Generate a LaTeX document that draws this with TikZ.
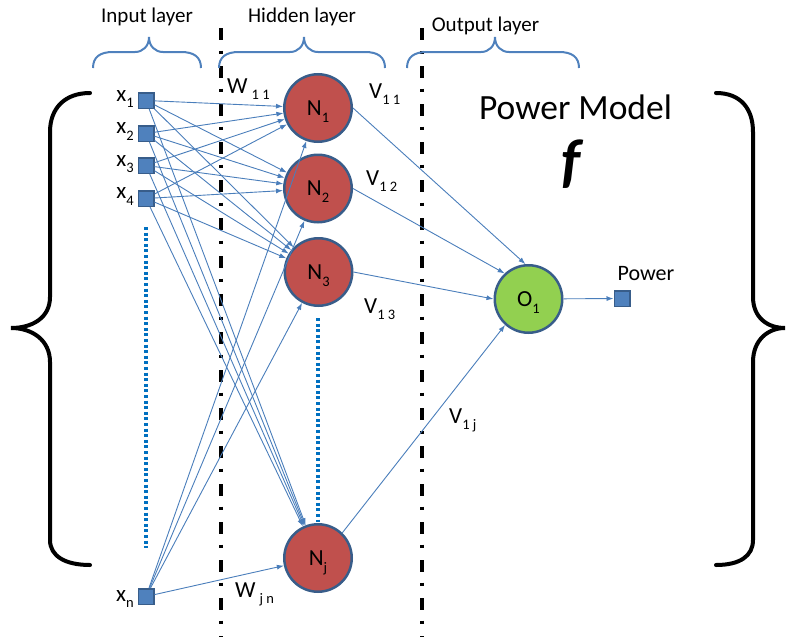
\documentclass[tikz,border=0pt]{standalone}
\usepackage{fontspec}
\setmainfont{Carlito}
\usetikzlibrary{arrows.meta}
\definecolor{sqblue}{HTML}{4F81BD}
\definecolor{edgeblue}{HTML}{385D8A}
\definecolor{hidred}{HTML}{C0504D}
\definecolor{outgreen}{HTML}{92D050}
\definecolor{arrblue}{HTML}{4A7EBB}
\definecolor{dotblue}{HTML}{0070C0}
\newcommand\sbs[1]{\raisebox{-0.3em}{\fontsize{14.5}{15}\selectfont #1}}
\newcommand\topbrace[3]{\draw[tbrace] (#1,68) .. controls (#1,57) and ({#1+7},52) .. ({#1+20},52) -- ({#2-14},52) .. controls ({#2-6},52) and (#2,46) .. (#2,37) .. controls (#2,46) and ({#2+6},52) .. ({#2+14},52) -- ({#3-20},52) .. controls ({#3-7},52) and (#3,57) .. (#3,68);}
\begin{document}
\begin{tikzpicture}[x=1pt,y=-1pt,
  sq/.style={rectangle, draw=edgeblue, fill=sqblue, line width=1.5pt, minimum size=15.5pt, inner sep=0pt},
  hid/.style={circle, draw=edgeblue, fill=hidred, line width=2.5pt, minimum size=67.5pt, inner sep=0pt, text depth=0pt, font=\fontsize{23}{26}\selectfont},
  outn/.style={circle, draw=edgeblue, fill=outgreen, line width=2.5pt, minimum size=67.5pt, inner sep=0pt, text depth=0pt, font=\fontsize{23}{26}\selectfont},
  conn/.style={draw=arrblue, line width=0.9pt, -{Latex[length=7pt,width=5pt]}},
  lbl/.style={inner sep=0pt, font=\fontsize{21}{24}\selectfont},
  wlbl/.style={inner sep=0pt, font=\fontsize{23}{26}\selectfont},
  tbrace/.style={draw=sqblue, line width=2pt},
  bigbrace/.style={draw=black, line width=4pt, line cap=round},
  sepline/.style={draw=black, line width=3.5pt, dash pattern=on 12pt off 10.5pt on 3pt off 12.5pt},
  vdots/.style={draw=dotblue, line width=3.5pt, dash pattern=on 3pt off 2.6pt}]
\useasboundingbox (0,0) rectangle (787,637);

% separators
\draw[sepline] (221,28) -- (221,637);
\draw[sepline] (422,28) -- (422,637);

% big braces
\draw[bigbrace] (90,93) .. controls (65,93) and (50,108) .. (50,132) -- (50,297) .. controls (50,318) and (32,328) .. (11,328) .. controls (32,328) and (50,340) .. (50,362) -- (50,540) .. controls (50,556) and (65,565) .. (90,565);
\draw[bigbrace] (716,93) .. controls (740,93) and (753,108) .. (753,132) -- (753,297) .. controls (753,318) and (768,328) .. (785,328) .. controls (768,328) and (753,340) .. (753,362) -- (753,540) .. controls (753,556) and (740,565) .. (716,565);

% top braces and titles
\topbrace{93}{149}{201}
\topbrace{219}{304}{385}
\topbrace{407}{495}{579}
\node[lbl, anchor=base] (tin) at (147,23) {Input layer};
\node[lbl, anchor=base] (thid) at (302,22.5) {Hidden layer};
\node[lbl, anchor=base] (tout) at (485.5,31.5) {Output layer};

\node[inner sep=0pt, anchor=base, font=\fontsize{35.5}{40}\selectfont] (pm) at (575.5,119) {Power Model};
\node[inner sep=0pt, font=\fontsize{60}{66}\selectfont\bfseries\itshape] (ff) at (571,164) {f};

% dotted lines
\draw[vdots] (146,227) -- (146,548);
\draw[vdots] (318,318) -- (318,522);

% input nodes
\node[sq] (x1) at (146,100.5) {};
\node[sq] (x2) at (146,133.5) {};
\node[sq] (x3) at (146,165.5) {};
\node[sq] (x4) at (146,198.5) {};
\node[sq] (xn) at (146,596.5) {};
\node[wlbl, anchor=base east] (lx1) at (134,101) {x\sbs{1}};
\node[wlbl, anchor=base east] (lx2) at (134,133.5) {x\sbs{2}};
\node[wlbl, anchor=base east] (lx3) at (134,166) {x\sbs{3}};
\node[wlbl, anchor=base east] (lx4) at (134,198.5) {x\sbs{4}};
\node[wlbl, anchor=base east] (lxn) at (134,601) {x\sbs{n}};

% hidden nodes
\node[hid] (N1) at (318,108) {N\sbs{1}};
\node[hid] (N2) at (318,188.5) {N\sbs{2}};
\node[hid] (N3) at (318.5,272) {N\sbs{3}};
\node[hid] (Nj) at (318,558) {N\sbs{j}};

% output
\node[outn] (O1) at (528.5,299) {O\sbs{1}};
\node[sq] (P) at (622,298.5) {};
\node[lbl, font=\fontsize{22}{25}\selectfont, anchor=base] (lp) at (646,280) {Power};

% connections input -> hidden
\foreach \i in {x1,x2,x3,x4,xn}{
  \foreach \j in {N1,N2,N3,Nj}{
    \draw[conn] (\i) -- (\j);
  }
}
% hidden -> output
\draw[conn] (N1.0) -- (O1.95);
\draw[conn] (N2.0) -- (O1.133);
\draw[conn] (N3.0) -- (O1.180);
\draw[conn] (Nj.46) -- (O1.228);
\draw[conn] (O1) -- (P);

% weight labels
\node[wlbl, anchor=base west] (w11) at (227,93) {W\hspace{4pt}\sbs{1 1}};
\node[wlbl, anchor=base west] (wjn) at (235,597) {W\hspace{4pt}\sbs{j n}};
\node[wlbl, anchor=base west] (v11) at (369,98) {V\sbs{1 1}};
\node[wlbl, anchor=base west] (v12) at (366,185) {V\sbs{1 2}};
\node[wlbl, anchor=base west] (v13) at (364,313) {V\sbs{1 3}};
\node[wlbl, anchor=base west] (v1j) at (449,423) {V\sbs{1 j}};
\end{tikzpicture}
\end{document}
